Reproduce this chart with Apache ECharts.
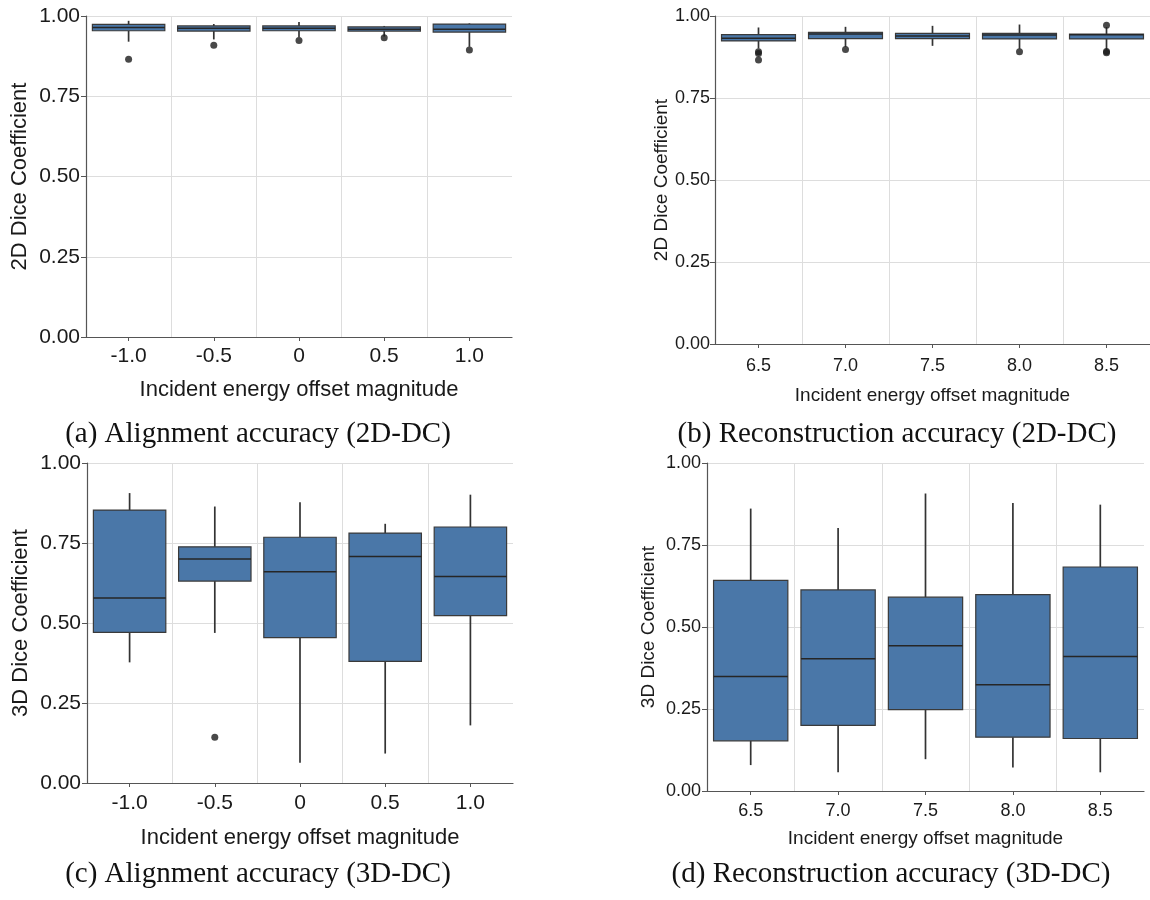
<!DOCTYPE html>
<html>
<head>
<meta charset="utf-8">
<title>Dice coefficient box plots</title>
<script src="https://cdn.jsdelivr.net/npm/echarts@6/dist/echarts.min.js"></script>
<style>
  html, body { margin: 0; padding: 0; background: #ffffff; }
  #chart { width: 1150px; height: 900px; }
</style>
</head>
<body>
<div id="chart"></div>
<script>
// Category labels (incident energy offsets)
const alignCategories = ['-1.0', '-0.5', '0', '0.5', '1.0'];
const reconCategories = ['6.5', '7.0', '7.5', '8.0', '8.5'];
const yTicks = [0, 0.25, 0.5, 0.75, 1.0];

// Box statistics per category: [lower whisker, Q1, median, Q3, upper whisker]
const align2D = [
  [0.920, 0.954, 0.964, 0.974, 0.985],
  [0.927, 0.953, 0.962, 0.969, 0.975],
  [0.934, 0.954, 0.962, 0.969, 0.981],
  [0.936, 0.953, 0.959, 0.966, 0.969],
  [0.904, 0.950, 0.959, 0.975, 0.977]
];
const align2DOutliers = [[0, 0.865], [1, 0.909], [2, 0.924], [3, 0.932], [4, 0.894]];

const recon2D = [
  [0.901, 0.924, 0.932, 0.943, 0.965],
  [0.906, 0.931, 0.945, 0.950, 0.967],
  [0.909, 0.931, 0.939, 0.947, 0.970],
  [0.900, 0.930, 0.942, 0.947, 0.974],
  [0.897, 0.930, 0.943, 0.945, 0.966]
];
const recon2DOutliers = [[0, 0.891], [0, 0.886], [0, 0.866], [1, 0.898], [3, 0.891],
  [4, 0.972], [4, 0.892], [4, 0.888]];

const align3D = [
  [0.377, 0.471, 0.578, 0.853, 0.906],
  [0.469, 0.631, 0.700, 0.738, 0.864],
  [0.063, 0.454, 0.660, 0.768, 0.877],
  [0.092, 0.380, 0.708, 0.781, 0.810],
  [0.180, 0.523, 0.645, 0.800, 0.901]
];
const align3DOutliers = [[1, 0.143]];

const recon3D = [
  [0.079, 0.153, 0.349, 0.642, 0.861],
  [0.057, 0.200, 0.403, 0.613, 0.802],
  [0.097, 0.248, 0.443, 0.591, 0.907],
  [0.072, 0.164, 0.324, 0.599, 0.878],
  [0.057, 0.160, 0.410, 0.683, 0.873]
];
const recon3DOutliers = [];

const captions = [
  '(a) Alignment accuracy (2D-DC)',
  '(b) Reconstruction accuracy (2D-DC)',
  '(c) Alignment accuracy (3D-DC)',
  '(d) Reconstruction accuracy (3D-DC)'
];

const BOX_FILL = '#4a77a8';
const BOX_EDGE = '#3a3a3a';
const WHISKER = '#333333';
const AXIS_COLOR = '#555555';
const GRID_COLOR = '#dddddd';
const TEXT_COLOR = '#1a1a1a';
const SANS = '"Liberation Sans", Arial, sans-serif';
const SERIF = '"Liberation Serif", "Times New Roman", serif';

// Panel layout: plotting rectangle plus text sizing for each sub-figure
const panels = [
  { grid: { left: 86, top: 16, width: 426, height: 321 }, cats: alignCategories,
    stats: align2D, outliers: align2DOutliers, yName: '2D Dice Coefficient',
    tick: 21, name: 22, xMargin: 9, xGap: 42, yMargin: 6, yGap: 55 },
  { grid: { left: 715, top: 16, width: 437, height: 328 }, cats: reconCategories,
    stats: recon2D, outliers: recon2DOutliers, yName: '2D Dice Coefficient',
    tick: 18, name: 19, xMargin: 13, xGap: 42, yMargin: 5, yGap: 42 },
  { grid: { left: 87, top: 463, width: 426, height: 320 }, cats: alignCategories,
    stats: align3D, outliers: align3DOutliers, yName: '3D Dice Coefficient',
    tick: 21, name: 22, xMargin: 10, xGap: 44, yMargin: 6, yGap: 55 },
  { grid: { left: 707, top: 463, width: 437, height: 328 }, cats: reconCategories,
    stats: recon3D, outliers: recon3DOutliers, yName: '3D Dice Coefficient',
    tick: 18, name: 19, xMargin: 11, xGap: 38, yMargin: 6, yGap: 49 }
];

const captionPos = [[258, 434], [897, 434], [258, 874], [891, 874]];

// Box without whisker caps: whiskers, filled IQR box and median line
function renderBox(params, api) {
  const idx = api.value(0);
  const lo = api.coord([idx, api.value(1)]);
  const q1 = api.coord([idx, api.value(2)]);
  const med = api.coord([idx, api.value(3)]);
  const q3 = api.coord([idx, api.value(4)]);
  const hi = api.coord([idx, api.value(5)]);
  const band = api.size([1, 0])[0];
  const w = band * 0.85;
  const x = lo[0];
  return {
    type: 'group',
    children: [
      { type: 'line', shape: { x1: x, y1: hi[1], x2: x, y2: q3[1] },
        style: { stroke: WHISKER, lineWidth: 1.7 } },
      { type: 'line', shape: { x1: x, y1: q1[1], x2: x, y2: lo[1] },
        style: { stroke: WHISKER, lineWidth: 1.7 } },
      { type: 'rect', shape: { x: x - w / 2, y: q3[1], width: w, height: q1[1] - q3[1] },
        style: { fill: BOX_FILL, stroke: BOX_EDGE, lineWidth: 1.2 } },
      { type: 'line', shape: { x1: x - w / 2, y1: med[1], x2: x + w / 2, y2: med[1] },
        style: { stroke: '#262626', lineWidth: 1.5 } }
    ]
  };
}

const grids = [], xAxes = [], yAxes = [], series = [];

panels.forEach((p, i) => {
  grids.push(Object.assign({ containLabel: false }, p.grid));
  xAxes.push({
    type: 'category', gridIndex: i, data: p.cats, boundaryGap: true,
    name: 'Incident energy offset magnitude', nameLocation: 'middle', nameGap: p.xGap,
    nameTextStyle: { fontFamily: SANS, fontSize: p.name, color: TEXT_COLOR },
    axisLine: { show: true, lineStyle: { color: AXIS_COLOR, width: 1.2 } },
    axisTick: { show: true, alignWithLabel: true, length: 4, lineStyle: { color: AXIS_COLOR } },
    axisLabel: { fontFamily: SANS, fontSize: p.tick, color: TEXT_COLOR, margin: p.xMargin },
    splitLine: { show: true, showMinLine: false, showMaxLine: false,
      lineStyle: { color: GRID_COLOR, width: 1 } }
  });
  yAxes.push({
    type: 'value', gridIndex: i, min: yTicks[0], max: yTicks[yTicks.length - 1], interval: 0.25,
    name: p.yName, nameLocation: 'middle', nameRotate: 90, nameGap: p.yGap,
    nameTextStyle: { fontFamily: SANS, fontSize: p.name, color: TEXT_COLOR },
    axisLine: { show: true, lineStyle: { color: AXIS_COLOR, width: 1.2 } },
    axisTick: { show: true, length: 5, lineStyle: { color: AXIS_COLOR } },
    axisLabel: { fontFamily: SANS, fontSize: p.tick, color: TEXT_COLOR, margin: p.yMargin,
      formatter: v => v.toFixed(2) },
    splitLine: { show: true, lineStyle: { color: GRID_COLOR, width: 1 } }
  });
  series.push({
    type: 'custom', xAxisIndex: i, yAxisIndex: i, renderItem: renderBox,
    encode: { x: 0, y: [1, 2, 3, 4, 5] },
    data: p.stats.map((s, k) => [k].concat(s)),
    z: 3
  });
  series.push({
    type: 'scatter', xAxisIndex: i, yAxisIndex: i, symbol: 'circle', symbolSize: 7,
    itemStyle: { color: '#1c1c1c' }, data: p.outliers, z: 4
  });
});

const graphics = captions.map((t, i) => ({
  type: 'text', x: captionPos[i][0], y: captionPos[i][1],
  style: { text: t, fontFamily: SERIF, fontSize: 29, fill: '#111111',
    align: 'center', verticalAlign: 'middle' }
}));

const chart = echarts.init(document.getElementById('chart'), null, { renderer: 'canvas' });
chart.setOption({
  backgroundColor: '#ffffff',
  animation: false,
  grid: grids,
  xAxis: xAxes,
  yAxis: yAxes,
  series: series,
  graphic: graphics
});
</script>
</body>
</html>
